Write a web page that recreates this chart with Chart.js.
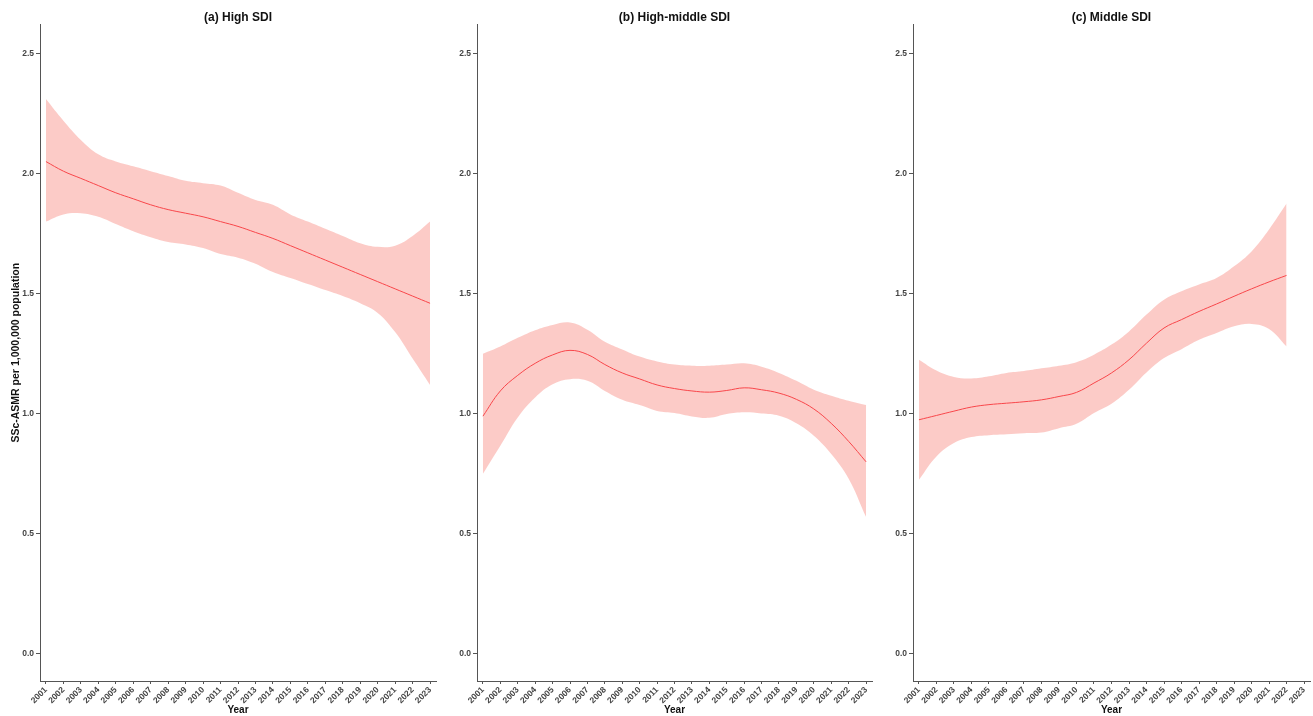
<!DOCTYPE html>
<html>
<head>
<meta charset="utf-8">
<script src="https://cdn.jsdelivr.net/npm/chart.js@4.4.1/dist/chart.umd.min.js"></script>
<style>
  html, body { margin: 0; padding: 0; background: #fff; }
  .panel { position: absolute; top: 0; height: 716px; }
</style>
</head>
<body>
<div class="panel" style="left:0;width:440px"><canvas id="chart-a"></canvas></div>
<div class="panel" style="left:440px;width:436px"><canvas id="chart-b"></canvas></div>
<div class="panel" style="left:876px;width:437px"><canvas id="chart-c"></canvas></div>
<script>
// Years on the axis, and the years each panel has data for
const yearTicks = [2001, 2002, 2003, 2004, 2005, 2006, 2007, 2008, 2009, 2010, 2011, 2012,
                   2013, 2014, 2015, 2016, 2017, 2018, 2019, 2020, 2021, 2022, 2023];
const yearsAB = [2001, 2002, 2003, 2004, 2005, 2006, 2007, 2008, 2009, 2010, 2011, 2012,
                 2013, 2014, 2015, 2016, 2017, 2018, 2019, 2020, 2021, 2022, 2023];
const yearsC = [2001, 2002, 2003, 2004, 2005, 2006, 2007, 2008, 2009, 2010, 2011, 2012,
                2013, 2014, 2015, 2016, 2017, 2018, 2019, 2020, 2021, 2022];
const yTicks = [0.0, 0.5, 1.0, 1.5, 2.0, 2.5];

// (a) High SDI
const highFit   = [2.05, 2.01, 1.98, 1.95, 1.92, 1.895, 1.87, 1.85, 1.835, 1.82, 1.80, 1.78,
                   1.755, 1.73, 1.70, 1.67, 1.64, 1.61, 1.58, 1.55, 1.52, 1.49, 1.46];
const highUpper = [2.31, 2.22, 2.14, 2.08, 2.05, 2.03, 2.01, 1.99, 1.97, 1.96, 1.95, 1.92,
                   1.89, 1.87, 1.83, 1.80, 1.77, 1.74, 1.71, 1.695, 1.70, 1.74, 1.80];
const highLower = [1.80, 1.83, 1.835, 1.82, 1.79, 1.76, 1.735, 1.715, 1.705, 1.69, 1.665, 1.65,
                   1.625, 1.59, 1.565, 1.54, 1.515, 1.49, 1.46, 1.42, 1.34, 1.23, 1.12];

// (b) High-middle SDI
const hmFit   = [0.99, 1.095, 1.16, 1.21, 1.245, 1.264, 1.247, 1.205, 1.17, 1.145, 1.12, 1.105,
                 1.095, 1.09, 1.097, 1.108, 1.10, 1.086, 1.06, 1.02, 0.96, 0.885, 0.80];
const hmUpper = [1.25, 1.28, 1.316, 1.348, 1.37, 1.38, 1.35, 1.30, 1.268, 1.238, 1.218, 1.205,
                 1.20, 1.20, 1.205, 1.21, 1.196, 1.17, 1.137, 1.10, 1.075, 1.054, 1.036];
const hmLower = [0.75, 0.867, 0.985, 1.068, 1.123, 1.144, 1.137, 1.095, 1.058, 1.036, 1.012, 1.003,
                 0.989, 0.983, 0.999, 1.006, 1.001, 0.992, 0.961, 0.909, 0.833, 0.73, 0.57];

// (c) Middle SDI
const midFit   = [0.975, 0.993, 1.011, 1.028, 1.038, 1.044, 1.05, 1.058, 1.072, 1.089, 1.128,
                  1.17, 1.225, 1.294, 1.357, 1.392, 1.426, 1.457, 1.489, 1.52, 1.549, 1.576];
const midUpper = [1.225, 1.18, 1.153, 1.147, 1.156, 1.17, 1.178, 1.189, 1.20, 1.215, 1.246,
                  1.288, 1.343, 1.413, 1.475, 1.51, 1.538, 1.565, 1.614, 1.676, 1.767, 1.875];
const midLower = [0.725, 0.822, 0.878, 0.903, 0.911, 0.915, 0.919, 0.922, 0.94, 0.958, 1.003,
                  1.042, 1.10, 1.172, 1.232, 1.269, 1.308, 1.336, 1.364, 1.374, 1.353, 1.28];

const lineColor = "#f8464a";
const bandColor = "rgba(248, 118, 109, 0.38)";
const axisColor = "#555555";
const tickColor = "#444444";
const fontFamily = "'Liberation Sans', Arial, sans-serif";

function pts(xs, ys) {
    return xs.map((x, i) => ({ x: x, y: ys[i] }));
}

function makePanel(id, title, years, fit, upper, lower, yWidth, padRight, showYTitle) {
    const canvas = document.getElementById(id);
    return new Chart(canvas, {
        type: "line",
        data: {
            datasets: [{
                data: pts(years, fit),
                borderColor: lineColor,
                borderWidth: 1,
                pointRadius: 0,
                tension: 0.4,
                fill: false,
            }, {
                data: pts(years, upper),
                borderColor: "rgba(0,0,0,0)",
                borderWidth: 0,
                pointRadius: 0,
                tension: 0.4,
                backgroundColor: bandColor,
                fill: "+1",
            }, {
                data: pts(years, lower),
                borderColor: "rgba(0,0,0,0)",
                borderWidth: 0,
                pointRadius: 0,
                tension: 0.4,
                fill: false,
            }],
        },
        options: {
            responsive: true,
            maintainAspectRatio: false,
            animation: false,
            layout: { padding: { left: 0, right: padRight, top: 0, bottom: 0 } },
            plugins: {
                legend: { display: false },
                tooltip: { enabled: false },
                title: {
                    display: true,
                    text: title,
                    fullSize: false,
                    color: "#111",
                    font: { family: fontFamily, size: 12, weight: "bold" },
                    padding: { top: 10, bottom: 0 },
                },
            },
            scales: {
                x: {
                    type: "linear",
                    min: 2000.66,
                    max: 2023.34,
                    afterBuildTicks: s => { s.ticks = yearTicks.map(v => ({ value: v })); },
                    afterFit: s => { s.height = 35; },
                    border: { color: axisColor, width: 1 },
                    grid: { drawOnChartArea: false, drawTicks: true, tickLength: 3, color: axisColor },
                    ticks: {
                        autoSkip: false,
                        minRotation: 45,
                        maxRotation: 45,
                        padding: 1,
                        color: tickColor,
                        font: { family: fontFamily, size: 8.5, weight: "bold" },
                        callback: v => String(v),
                    },
                    title: {
                        display: true,
                        text: "Year",
                        color: "#111",
                        font: { family: fontFamily, size: 10, weight: "bold" },
                        padding: { top: 0, bottom: 0 },
                    },
                },
                y: {
                    min: -0.1125,
                    max: 2.621,
                    afterBuildTicks: s => { s.ticks = yTicks.map(v => ({ value: v })); },
                    afterFit: s => { s.width = yWidth; },
                    border: { color: axisColor, width: 1 },
                    grid: { drawOnChartArea: false, drawTicks: true, tickLength: 4, color: axisColor },
                    ticks: {
                        padding: 2,
                        color: tickColor,
                        font: { family: fontFamily, size: 8.5, weight: "bold" },
                        callback: v => v.toFixed(1),
                    },
                    title: {
                        display: showYTitle,
                        text: "SSc-ASMR per 1,000,000 population",
                        color: "#111",
                        font: { family: fontFamily, size: 10.5, weight: "bold" },
                        padding: { top: 10, bottom: 0 },
                    },
                },
            },
        },
    });
}

makePanel("chart-a", "(a) High SDI", yearsAB, highFit, highUpper, highLower, 40, 4, true);
makePanel("chart-b", "(b) High-middle SDI", yearsAB, hmFit, hmUpper, hmLower, 37, 4, false);
makePanel("chart-c", "(c) Middle SDI", yearsC, midFit, midUpper, midLower, 37, 3, false);
</script>
</body>
</html>
